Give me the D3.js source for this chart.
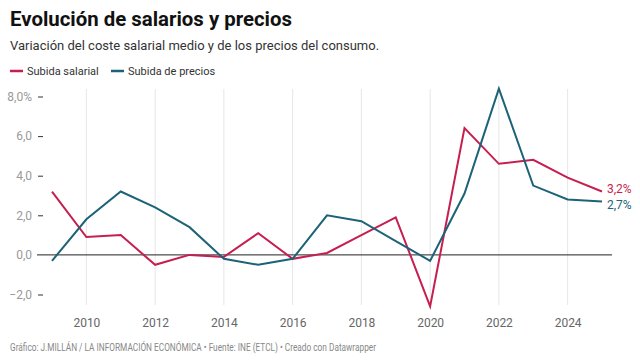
<!DOCTYPE html>
<html><head><meta charset="utf-8">
<script src="https://cdn.jsdelivr.net/npm/d3@7"></script>
<style>
body{margin:0;background:#fff;font-family:Roboto,"Noto Sans",sans-serif;}
svg{display:block}
</style></head>
<body><svg id="c" width="640" height="360"></svg>
<script>
const years = [2009,2010,2011,2012,2013,2014,2015,2016,2017,2018,2019,2020,2021,2022,2023,2024,2025];
const salarial = [3.2,0.9,1.0,-0.5,0.0,-0.1,1.1,-0.2,0.1,1.0,1.9,-2.6,6.4,4.6,4.8,3.9,3.2];
const precios = [-0.3,1.8,3.2,2.4,1.4,-0.2,-0.5,-0.2,2.0,1.7,0.7,-0.3,3.1,8.4,3.5,2.8,2.7];
const xTicks = [2010,2012,2014,2016,2018,2020,2022,2024];
const yTicks = [-2,0,2,4,6,8];
const seriesNames = ["Subida salarial","Subida de precios"];
const colors = ["#c71e50","#1c6377"];

const svg = d3.select("#c");
const x = d3.scaleLinear().domain([2009,2025]).range([52,602]);
const y = d3.scaleLinear().domain([-2,8]).range([294.5,96.5]);

svg.append("text").attr("x",10).attr("y",26).attr("font-size",20.4).attr("font-weight",700).attr("fill","#111")
  .text("Evolución de salarios y precios");
svg.append("text").attr("x",10).attr("y",50).attr("font-size",13).attr("fill","#333")
  .text("Variación del coste salarial medio y de los precios del consumo.");

// legend
const lg = [{x:10},{x:111}];
seriesNames.forEach((n,i)=>{
  svg.append("line").attr("x1",lg[i].x).attr("x2",lg[i].x+13).attr("y1",71).attr("y2",71)
    .attr("stroke",colors[i]).attr("stroke-width",2.5);
  svg.append("text").attr("x",lg[i].x+17).attr("y",75).attr("font-size",11).attr("fill","#333").text(n);
});

// vertical grid
svg.append("g").selectAll("line").data(xTicks).join("line")
  .attr("x1",d=>x(d)).attr("x2",d=>x(d)).attr("y1",89).attr("y2",305)
  .attr("stroke","#e6e6e6").attr("stroke-width",1);

// x axis labels
const xa = svg.append("g").attr("transform","translate(0,305)")
  .call(d3.axisBottom(x).tickValues(xTicks).tickFormat(d3.format("d")).tickSize(0).tickPadding(13));
xa.select(".domain").remove();
xa.selectAll("text").attr("font-size",12).attr("fill","#666").attr("font-family","Roboto,sans-serif");

// y axis
const fmt = d => (d<0?"\u2212":"")+Math.abs(d).toFixed(1).replace(".",",")+(d===8?"%":"");
const ya = svg.append("g").attr("transform","translate(43,0)")
  .call(d3.axisLeft(y).tickValues(yTicks).tickFormat(fmt).tickSize(5).tickPadding(6));
ya.select(".domain").remove();
ya.selectAll("line").attr("stroke","#333").attr("stroke-width",1);
ya.selectAll("text").attr("font-size",12).attr("fill","#999").attr("font-family","Roboto,sans-serif");
ya.selectAll(".tick").filter(d=>d===0).select("line").remove();

// zero line
svg.append("line").attr("x1",37).attr("x2",612).attr("y1",y(0)).attr("y2",y(0))
  .attr("stroke","#222").attr("stroke-width",1);

const line = d3.line().x((d,i)=>x(years[i])).y(d=>y(d));
[salarial,precios].forEach((s,i)=>{
  svg.append("path").attr("d",line(s)).attr("fill","none").attr("stroke",colors[i])
    .attr("stroke-width",2).attr("stroke-linejoin","miter");
});

// end labels
const lastI = years.length-1;
svg.append("text").attr("x",x(years[lastI])+5).attr("y",y(salarial[lastI])+1).attr("font-size",12)
  .attr("fill",colors[0]).text(salarial[lastI].toFixed(1).replace(".",",")+"%");
svg.append("text").attr("x",x(years[lastI])+5).attr("y",y(precios[lastI])+8).attr("font-size",12)
  .attr("fill",colors[1]).text(precios[lastI].toFixed(1).replace(".",",")+"%");

svg.append("text").attr("x",10).attr("y",351).attr("font-size",10.6).attr("fill","#888")
  .attr("textLength",366).attr("lengthAdjust","spacingAndGlyphs")
  .text("Gráfico: J.MILLÁN / LA INFORMACIÓN ECONÓMICA • Fuente: INE (ETCL) • Creado con Datawrapper");
</script></body></html>
